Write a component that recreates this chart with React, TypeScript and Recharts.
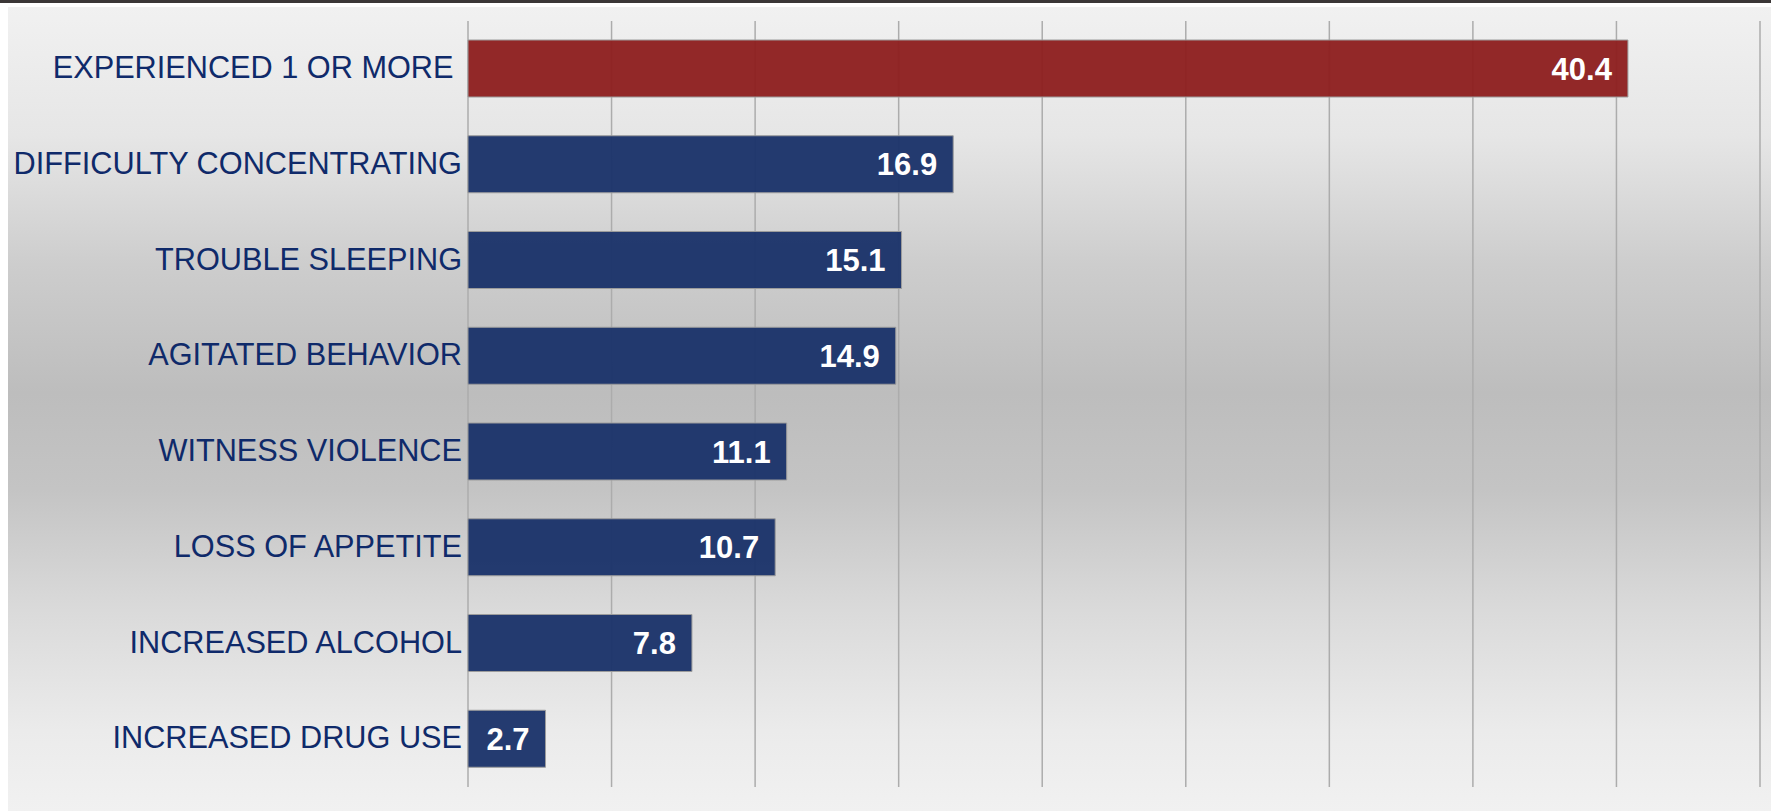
import { BarChart, Bar, XAxis, YAxis, CartesianGrid, Cell, LabelList } from 'recharts'

const categories = [
  'EXPERIENCED 1 OR MORE ',
  'DIFFICULTY CONCENTRATING',
  'TROUBLE SLEEPING',
  'AGITATED BEHAVIOR',
  'WITNESS VIOLENCE',
  'LOSS OF APPETITE',
  'INCREASED ALCOHOL',
  'INCREASED DRUG USE',
]
const values = [40.4, 16.9, 15.1, 14.9, 11.1, 10.7, 7.8, 2.7]
const xTicks = [0, 5, 10, 15, 20, 25, 30, 35, 40, 45]

const data = categories.map((name, i) => ({ name, value: values[i] }))

const FONT = '"Liberation Sans", Arial, sans-serif'

const CategoryTick = (props: any) => {
  const { x, y, payload } = props
  return (
    <text
      x={x + 2}
      y={y}
      dy="0.3em"
      textAnchor="end"
      fill="#0f2a6a"
      fontSize={30.7}
      fontFamily={FONT}
      style={{ whiteSpace: 'pre' }}
    >
      {payload.value}
    </text>
  )
}

const App = () => {
  return (
    <div
      style={{
        position: 'absolute',
        left: 0,
        top: 0,
        width: 1771,
        height: 811,
        background: '#ffffff',
        overflow: 'hidden',
      }}
    >
      <div style={{ position: 'absolute', left: 0, top: 0, width: 1771, height: 3, background: '#3b3737' }} />
      <div
        style={{
          position: 'absolute',
          left: 8,
          top: 7,
          width: 1763,
          height: 804,
          background:
            'linear-gradient(to bottom, #f1f1f1 0%, #e6e6e6 16%, #cdcdcd 32%, #bdbdbd 48%, #c4c4c4 60%, #dadada 75%, #ebebeb 90%, #f1f1f1 100%)',
        }}
      />
      <div style={{ position: 'absolute', left: 0, top: 0 }}>
        <BarChart
          width={1771}
          height={811}
          data={data}
          layout="vertical"
          margin={{ top: 21, right: 11, bottom: 24, left: 0 }}
          barSize={57}
        >
          <CartesianGrid horizontal={false} stroke="#acacac" strokeWidth={1.5} />
          <XAxis type="number" domain={[0, 45]} ticks={xTicks} hide />
          <YAxis
            type="category"
            dataKey="name"
            width={468}
            axisLine={false}
            tickLine={false}
            tick={<CategoryTick />}
            interval={0}
          />
          <Bar dataKey="value" isAnimationActive={false} stroke="#9c9c9c" strokeWidth={1} fillOpacity={0.96}>
            {data.map((d, i) => (
              <Cell key={d.name} fill={i === 0 ? '#8e1f1f' : '#1b336a'} />
            ))}
            <LabelList
              dataKey="value"
              position="insideRight"
              offset={16}
              fill="#ffffff"
              fontSize={31}
              fontWeight="bold"
              fontFamily={FONT}
            />
          </Bar>
        </BarChart>
      </div>
    </div>
  )
}

export default App
